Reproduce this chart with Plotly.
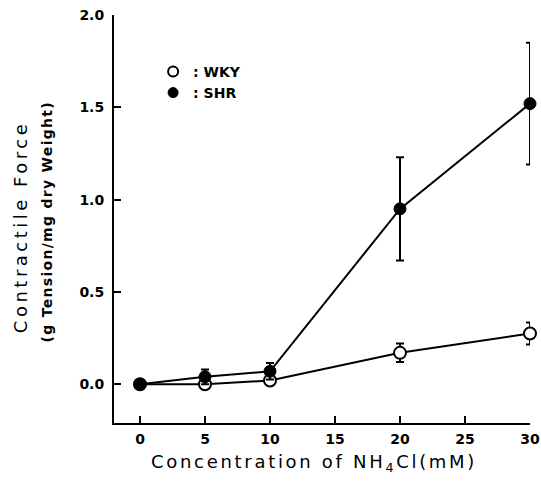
import plotly.graph_objects as go

conc = [0, 5, 10, 20, 30]
wky = [0.0, 0.0, 0.02, 0.17, 0.275]
wky_err = [0.0, 0.0, 0.0, 0.05, 0.06]
shr = [0.0, 0.04, 0.07, 0.95, 1.52]
shr_err = [0.0, 0.04, 0.045, 0.28, 0.33]

xticks = [0, 5, 10, 15, 20, 25, 30]
yticks = [0.0, 0.5, 1.0, 1.5, 2.0]
yticklabels = ["0.0", "0.5", "1.0", "1.5", "2.0"]

fig = go.Figure()
fig.add_trace(go.Scatter(
    x=conc, y=wky, mode="lines+markers", name=": WKY", showlegend=False, cliponaxis=False,
    line=dict(color="black", width=2),
    marker=dict(symbol="circle", size=12, color="white", line=dict(color="black", width=2)),
    error_y=dict(type="data", array=wky_err, color="black", thickness=2, width=4),
))
fig.add_trace(go.Scatter(
    x=conc, y=shr, mode="lines+markers", name=": SHR", showlegend=False, cliponaxis=False,
    line=dict(color="black", width=2),
    marker=dict(symbol="circle", size=12, color="black", line=dict(color="black", width=1)),
    error_y=dict(type="data", array=shr_err, color="black", thickness=2, width=4),
))
# legend entries
fig.add_trace(go.Scatter(x=[None], y=[None], mode="markers", name=": WKY",
    marker=dict(symbol="circle", size=10, color="white", line=dict(color="black", width=2))))
fig.add_trace(go.Scatter(x=[None], y=[None], mode="markers", name=": SHR",
    marker=dict(symbol="circle", size=10, color="black", line=dict(color="black", width=1))))

tickfont = dict(family="DejaVu Sans", size=14, color="black", weight="bold")

fig.update_layout(
    width=541, height=487,
    margin=dict(l=114, r=11, t=15, b=64),
    paper_bgcolor="white", plot_bgcolor="white",
    showlegend=True,
    legend=dict(x=0.094, y=0.90, xanchor="left", yanchor="top",
                bgcolor="rgba(0,0,0,0)",
                font=dict(family="DejaVu Sans", size=14, color="black", weight="bold"),
                tracegroupgap=0, itemwidth=30),
    xaxis=dict(range=[-2, 30], tickvals=xticks, ticks="inside", ticklen=7, tickwidth=2,
               tickcolor="black", showline=True, linecolor="black", linewidth=2,
               showgrid=False, zeroline=False, tickfont=tickfont, automargin=False,
               ticklabelstandoff=2, ticklabeloverflow="allow"),
    yaxis=dict(range=[-0.21, 2.0], tickvals=yticks, ticktext=yticklabels, ticks="inside",
               ticklen=7, tickwidth=2, tickcolor="black", showline=True, linecolor="black",
               linewidth=2, showgrid=False, zeroline=False, tickfont=tickfont, automargin=False,
               ticklabelstandoff=5, ticklabeloverflow="allow"),
    annotations=[
        dict(text="<span style='letter-spacing:3.5px'>Contractile Force</span>",
             textangle=-90, xref="paper", yref="paper",
             x=-0.226, y=0.48, xanchor="center", yanchor="middle", showarrow=False,
             font=dict(family="DejaVu Sans", size=18, color="black")),
        dict(text="<span style='letter-spacing:1.3px'>(g Tension/mg dry Weight)</span>",
             textangle=-90, xref="paper", yref="paper",
             x=-0.16, y=0.495, xanchor="center", yanchor="middle", showarrow=False,
             font=dict(family="DejaVu Sans", size=14, color="black", weight="bold")),
        dict(text="<span style='letter-spacing:2.7px'>Concentration of NH<sub>4</sub>Cl(mM)</span>",
             xref="paper", yref="paper", x=0.481, y=-0.097, xanchor="center", yanchor="middle",
             showarrow=False, font=dict(family="DejaVu Sans", size=18, color="black")),
    ],
)

fig.write_html("out.html", config={"displayModeBar": False},
               post_script="document.body.style.margin='0';")
